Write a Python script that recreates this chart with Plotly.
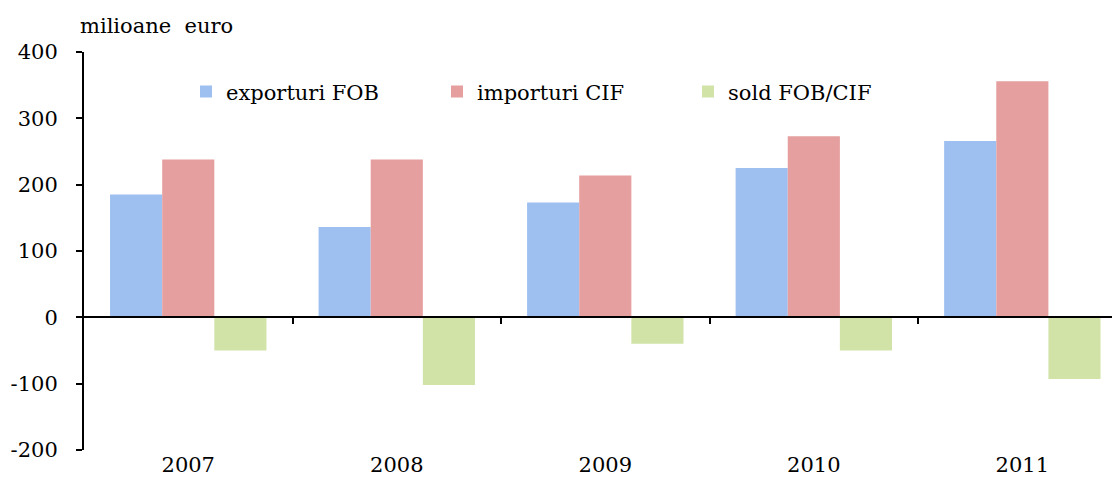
import plotly.graph_objects as go

years = ["2007", "2008", "2009", "2010", "2011"]
exporturi = [185, 136, 173, 225, 266]
importuri = [238, 238, 214, 273, 356]
sold = [-50, -102, -40, -50, -93]
y_ticks = [-200, -100, 0, 100, 200, 300, 400]
y_ticktext = [str(v) for v in y_ticks]

FONT = "'DejaVu Serif', 'Liberation Serif', serif"
FS = 21
fig = go.Figure()
fig.add_bar(x=years, y=exporturi, name="exporturi FOB", marker=dict(color="#9DC0F0", line=dict(width=0)))
fig.add_bar(x=years, y=importuri, name="importuri CIF", marker=dict(color="#E59F9E", line=dict(width=0)))
fig.add_bar(x=years, y=sold, name="sold FOB/CIF", marker=dict(color="#D1E3A7", line=dict(width=0)))

# invisible trace for the secondary axis (zero line with boundary ticks)
fig.add_scatter(x=[0], y=[0], xaxis="x2", mode="markers", marker=dict(opacity=0),
                showlegend=False, hoverinfo="skip")

W, H = 1112, 495
L = 84
xmax = 4.43
fig.update_layout(
    width=W, height=H,
    margin=dict(l=L, r=0, t=52, b=45, autoexpand=False),
    plot_bgcolor="white", paper_bgcolor="white",
    font=dict(family=FONT, size=FS, color="black"),
    barmode="group", bargap=0.25, bargroupgap=0,
    xaxis=dict(type="category", range=[-0.5, xmax], showline=False, ticks="",
               showgrid=False, zeroline=False, tickfont=dict(size=FS), automargin=False),
    xaxis2=dict(overlaying="x", anchor="free", position=1/3, range=[-0.5, xmax],
                showline=True, linecolor="black", linewidth=2,
                tickvals=[0.5, 1.5, 2.5, 3.5, 4.5], ticks="outside", ticklen=6,
                tickwidth=1.5, tickcolor="black", showticklabels=False,
                showgrid=False, zeroline=False),
    yaxis=dict(range=[-200, 400], tickvals=y_ticks, ticktext=y_ticktext,
               showline=True, linecolor="black",
               linewidth=2, ticks="outside", ticklen=6, tickwidth=1.5, tickcolor="black",
               showgrid=False, zeroline=False, tickfont=dict(size=FS),
               ticklabelstandoff=14, automargin=False),
    legend=dict(orientation="h", x=(186 - L) / (W - L), xanchor="left",
                y=0.9, yanchor="middle", font=dict(size=FS),
                entrywidth=206, entrywidthmode="pixels", itemwidth=30,
                bgcolor="rgba(0,0,0,0)", traceorder="normal"),
    annotations=[dict(text="milioane  euro", xref="paper", yref="paper",
                      x=-6 / (W - L), y=1.03, xanchor="left", yanchor="bottom",
                      showarrow=False, font=dict(size=FS))],
)

fig.write_html("out.html", config={"displayModeBar": False},
               post_script="document.body.style.margin='0';")
